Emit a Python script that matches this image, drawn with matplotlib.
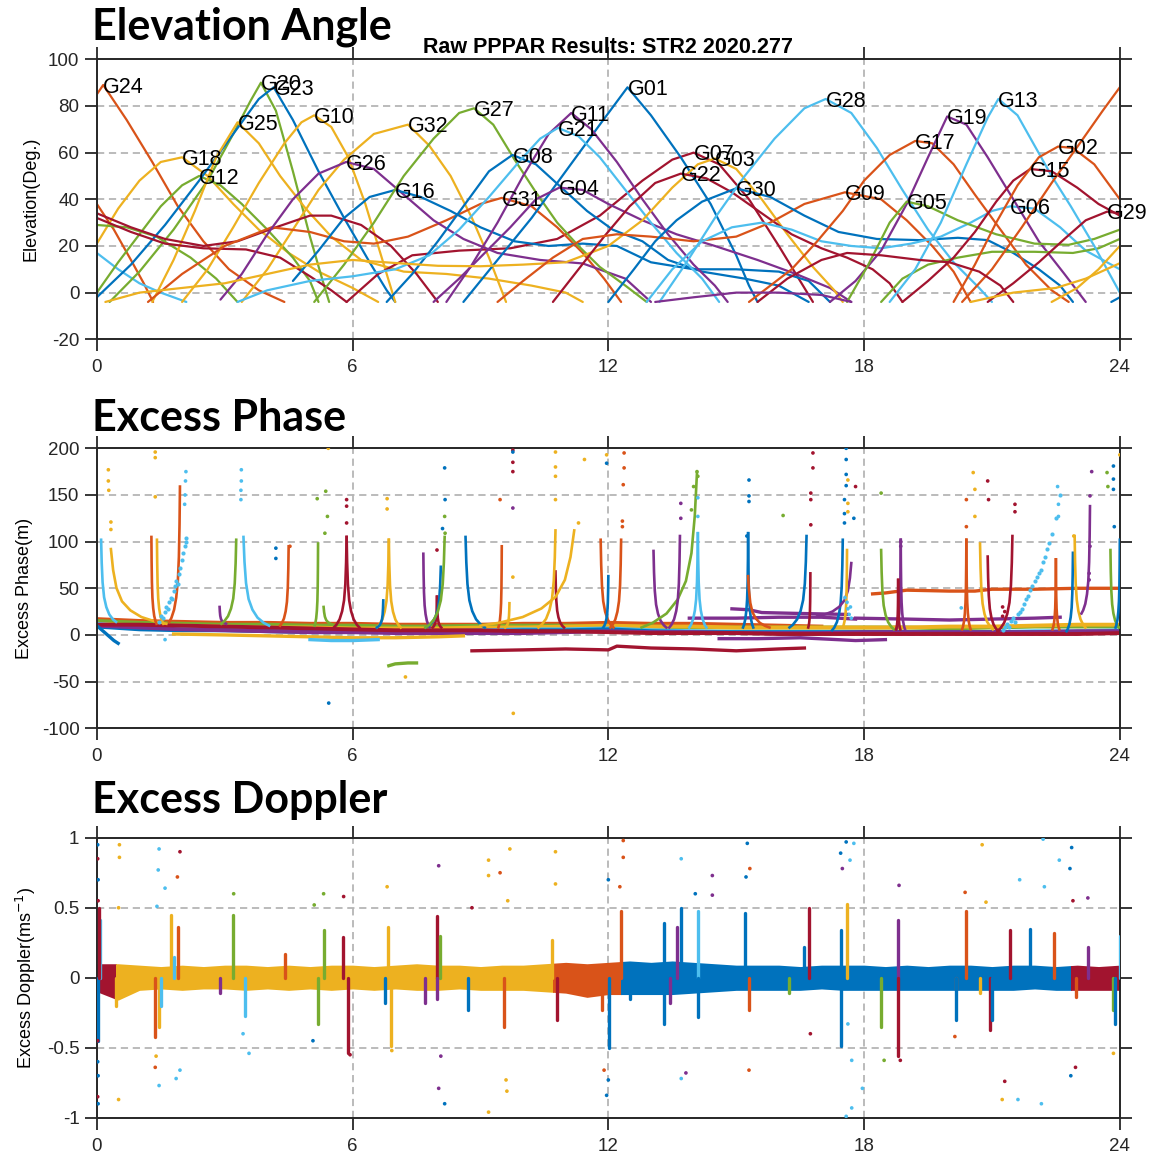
import numpy as np
import matplotlib
matplotlib.use("Agg")
import matplotlib.pyplot as plt
from matplotlib.patches import Rectangle

plt.rcParams['font.family'] = ['Liberation Sans', 'DejaVu Sans']
plt.rcParams['axes.unicode_minus'] = False

# MATLAB default colour order
COL = ['#0072BD', '#D95319', '#EDB120', '#7E2F8E', '#77AC30', '#4DBEEE', '#A2142F']
B, O, Y, P, G, L, R = range(7)

# ---------------- Elevation angle passes (hours, degrees) ----------------
G24_t = [0, 0.15, 0.7, 1.3, 1.9, 2.5, 3.1, 3.8, 4.4]
G24_el = [85, 89, 74, 56, 37, 22, 10, 1, -4]
oset_t = [0, 0.4, 0.8, 1.1, 1.32]
oset_el = [38, 27, 14, 4, -4]
lset_t = [0, 0.5, 1.0, 1.5, 2.1]
lset_el = [17, 10, 4, 0, -4]
G18_t = [0, 0.5, 1.0, 1.5, 2.0, 2.6, 3.2, 3.8, 4.5, 5.2, 6.0, 6.6]
G18_el = [21, 36, 48, 56, 58, 50, 38, 27, 17, 9, 2, -4]
G12_t = [0, 0.5, 1.0, 1.5, 2.0, 2.4, 2.9, 3.4, 4.0, 4.6, 5.0, 5.2]
G12_el = [0, 13, 25, 37, 46, 50, 46, 38, 27, 15, 5, -4]
gset_t = [0, 0.7, 1.4, 2.2, 2.8, 3.3]
gset_el = [29, 28, 24, 15, 6, -4]
G20_t = [0.3, 1.0, 1.8, 2.6, 3.2, 3.6, 3.85, 4.2, 4.6, 5.0, 5.3, 5.45]
G20_el = [-4, 9, 27, 48, 68, 82, 90, 78, 52, 24, 5, -4]
G23_t = [0, 0.8, 1.6, 2.4, 3.2, 3.8, 4.15, 4.6, 5.2, 5.8, 6.4, 6.8, 7.0]
G23_el = [-2, 12, 29, 48, 68, 83, 88, 74, 52, 32, 13, 1, -4]
G25_t = [1.3, 1.8, 2.3, 2.8, 3.3, 3.8, 4.3, 4.9, 5.5, 6.2, 7.2, 8.2, 9.2, 10.2, 11.0, 11.4]
G25_el = [-4, 14, 35, 58, 73, 64, 50, 36, 24, 14, 9, 8, 6, 3, 0, -4]
G10_t = [2.0, 2.6, 3.2, 3.8, 4.4, 4.8, 5.1, 5.5, 5.9, 6.3, 6.7, 7.0]
G10_el = [-4, 10, 28, 47, 64, 73, 76, 71, 58, 38, 14, -4]
G32_t = [3.4, 4.0, 4.6, 5.2, 5.8, 6.5, 7.3, 7.8, 8.3, 8.8, 9.2, 9.6]
G32_el = [-4, 10, 27, 44, 57, 68, 72, 63, 50, 32, 15, -4]
crA_t = [0, 0.8, 1.6, 2.5, 3.3, 4.2, 5.0, 5.5, 6.2, 6.9, 7.5, 8.0]
crA_el = [34, 28, 23, 20, 22, 28, 33, 33, 29, 20, 8, -4]
crB_t = [0, 0.8, 1.6, 2.5, 3.5, 4.3, 5.0, 5.5, 5.86]
crB_el = [32, 26, 21, 19, 18.5, 15, 7, 1, -4]
G07_t = [5.86, 6.6, 7.4, 8.5, 9.7, 10.8, 11.8, 12.8, 13.5, 14.0, 14.6, 15.3, 16.0, 16.5, 16.8]
G07_el = [-4, 8, 16, 18, 19, 23, 33, 48, 57, 60, 55, 40, 20, 5, -4]
G31_t = [1.2, 2.0, 3.0, 4.1, 5.0, 5.8, 6.5, 7.3, 8.2, 9.0, 9.5, 10.2, 10.8, 11.4, 11.9, 12.3]
G31_el = [-4, 8, 20, 28, 26, 22, 21, 24, 31, 38, 40.6, 37, 28, 17, 6, -4]
G26_t = [2.9, 3.4, 4.0, 4.6, 5.2, 5.85, 6.5, 7.2, 7.9, 8.6, 9.4, 10.4, 11.4, 12.4, 13.0]
G26_el = [-3, 8, 25, 40, 51, 56, 53, 42, 31, 23, 17, 14, 12.5, 6, -4]
G16_t = [4.6, 5.2, 5.8, 6.4, 7.0, 7.6, 8.3, 9.0, 9.8, 10.6, 11.4, 12.2, 13.0, 14.0, 15.0, 16.0, 16.7, 17.2]
G16_el = [5, 18, 32, 41, 44, 41, 35, 28, 22, 20, 21, 20, 13, 10, 10, 9, 5, -4]
G27_t = [5.1, 5.8, 6.5, 7.2, 7.9, 8.5, 8.85, 9.3, 9.8, 10.3, 10.8, 11.3, 11.8, 12.4, 12.9]
G27_el = [-4, 12, 30, 50, 66, 77, 79, 72, 57, 43, 30, 20, 11, 3, -4]
G08_t = [6.8, 7.4, 8.0, 8.6, 9.2, 9.75, 10.3, 10.9, 11.5, 12.1, 12.8, 13.4, 14.2, 15.2, 16.0, 16.7]
G08_el = [-4, 8, 22, 37, 52, 59, 55, 45, 35, 27, 22, 14, 9, 6, 3, -4]
G01_t = [8.6, 9.4, 10.2, 11.0, 11.8, 12.45, 13.0, 13.7, 14.4, 15.0, 15.3, 15.5]
G01_el = [-4, 14, 32, 52, 72, 88, 76, 58, 38, 16, 3, -4]
G04_t = [7.9, 8.5, 9.1, 9.7, 10.3, 10.85, 11.4, 12.0, 12.8, 13.6, 14.5, 15.5, 16.4, 17.2, 17.7]
G04_el = [-4, 6, 17, 28, 40, 45, 44, 38, 31, 25, 20, 14, 8, 2, -4]
G11_t = [8.2, 8.8, 9.4, 10.0, 10.6, 11.13, 11.6, 12.2, 12.8, 13.4, 14.0, 14.5, 14.8]
G11_el = [-4, 12, 30, 50, 68, 77, 70, 56, 40, 25, 12, 3, -4]
G21_t = [3.3, 4.0, 5.0, 6.0, 7.0, 7.8, 8.5, 9.2, 9.9, 10.4, 10.82, 11.3, 11.8, 12.4, 13.0, 13.6, 14.2, 14.6]
G21_el = [-4, 1, 5, 7, 10, 16, 27, 41, 56, 66, 70.6, 67, 58, 44, 30, 17, 6, -4]
G03_t = [0.2, 1.0, 2.0, 3.0, 4.0, 5.0, 6.0, 7.0, 8.0, 9.0, 10.0, 11.0, 12.0, 12.8, 13.5, 14.1, 14.5,
         15.0, 15.6, 16.2, 16.8, 17.3, 17.5]
G03_el = [-4, 0, 2, 4, 8, 12, 14, 12.7, 11.5, 11.3, 12, 13, 20, 31, 45, 55, 57.5, 53, 40, 25, 11, 1, -4]
G22_t = [10.7, 11.3, 11.9, 12.5, 13.1, 13.7, 14.3, 14.9, 15.6, 16.3, 17.0, 17.6, 18.2, 18.6, 18.9]
G22_el = [-4, 10, 24, 37, 47, 51, 49, 43, 34, 25, 19, 15, 10, 4, -4]
G09_t = [9.4, 10.0, 10.7, 11.4, 12.2, 13.0, 14.0, 15.0, 15.8, 16.6, 17.55, 18.4, 19.0, 19.6, 20.1, 20.5]
G09_el = [-4, 5, 15, 23, 25, 24, 22, 24, 30, 38, 43, 40, 31, 20, 9, -4]
G30_t = [12.0, 12.6, 13.1, 13.6, 14.2, 15.0, 15.8, 16.6, 17.4, 18.3, 19.3, 20.2, 20.9, 21.5, 22.1, 22.6, 22.9]
G30_el = [-4, 10, 22, 31, 39, 44.7, 41, 33, 26, 23, 22.5, 23.5, 22.5, 17, 10, 3, -4]
G28_t = [13.2, 13.8, 14.5, 15.2, 15.9, 16.6, 17.1, 17.7, 18.3, 18.9, 19.5, 20.1, 20.7, 21.0]
G28_el = [-4, 12, 32, 50, 66, 79, 83, 77, 62, 44, 27, 13, 2, -4]
G06_t = [12.9, 13.5, 14.2, 14.9, 15.6, 16.3, 17.0, 17.7, 18.4, 19.1, 19.8, 20.5, 21.0, 21.43, 22.0, 22.6, 23.2, 24.0]
G06_el = [-4, 10, 22, 28, 30, 27, 22, 20, 19, 21, 24, 30, 35, 37, 36, 28, 18, 10]
G17_t = [15.3, 15.8, 16.3, 16.9, 17.5, 18.0, 18.6, 19.2, 19.6, 20.1, 20.6, 21.2, 21.8, 22.4, 22.8]
G17_el = [-4, 3, 10, 22, 35, 48, 59, 65, 64, 55, 42, 27, 12, 1, -4]
G19_t = [17.2, 17.8, 18.4, 19.0, 19.5, 19.95, 20.4, 20.9, 21.5, 22.1, 22.7, 23.2]
G19_el = [-4, 5, 18, 38, 58, 75.5, 72, 58, 40, 22, 8, -4]
G05_t = [17.6, 18.1, 18.6, 19.0, 19.5, 20.2, 21.1, 22.0, 22.8, 23.4, 24.0]
G05_el = [-4, 12, 30, 39, 37, 31, 25, 21, 20.5, 23, 27]
glow_t = [18.4, 18.9, 19.5, 20.2, 21.0, 22.0, 22.9, 23.5, 24.0]
glow_el = [-4, 6, 12, 15, 17.5, 17.5, 17, 19, 23]
G13_t = [18.6, 19.2, 19.8, 20.4, 20.9, 21.15, 21.6, 22.0, 22.4, 22.85, 23.4, 24.0]
G13_el = [-4, 10, 30, 55, 75, 83, 76, 63, 50, 37, 20, 0]
G15_t = [18.9, 19.5, 20.1, 20.6, 21.1, 21.5, 21.9, 22.4, 23.0, 23.5, 24.0]
G15_el = [-4, 5, 15, 26, 39, 48, 53, 52, 45, 38, 33]
G29_t = [20.9, 21.5, 22.1, 22.7, 23.2, 23.7, 24.0]
G29_el = [-4, 4, 13, 23, 31, 34.7, 34]
G02_t = [20.1, 20.6, 21.1, 21.6, 22.1, 22.55, 22.9, 23.4, 23.8, 24.0]
G02_el = [-4, 12, 30, 46, 58, 62.6, 62, 55, 45, 40]
G24b_t = [20.3, 21.0, 21.7, 22.4, 23.1, 23.6, 24.0]
G24b_el = [-4, 10, 28, 47, 65, 78, 88]
crlow_t = [15.5, 16.2, 17.0, 17.6, 18.4, 19.3, 20.0, 20.7, 21.2, 21.5]
crlow_el = [-4, 6, 14, 17, 16, 14, 13, 9, 3, -4]
yend1_t = [20.5, 21.5, 22.5, 23.2, 24.0]
yend1_el = [-4, 0, 2, 6, 12.6]
yend2_t = [22.4, 23.0, 23.5, 24.0]
yend2_el = [-4, 2, 10, 20]
plow_t = [13.1, 14.0, 15.0, 16.0, 17.0, 17.7]
plow_el = [-4, -2, 0, 0, -1, -4]
bend_t = [23.8, 24.0]
bend_el = [-4, -2]

elev_passes = [
    ("G24", O, G24_t, G24_el), ("", O, oset_t, oset_el), ("", L, lset_t, lset_el),
    ("G18", Y, G18_t, G18_el), ("G12", G, G12_t, G12_el), ("", G, gset_t, gset_el),
    ("G20", G, G20_t, G20_el), ("G23", B, G23_t, G23_el), ("G25", Y, G25_t, G25_el),
    ("G10", Y, G10_t, G10_el), ("G32", Y, G32_t, G32_el), ("", R, crA_t, crA_el),
    ("", R, crB_t, crB_el), ("G07", R, G07_t, G07_el), ("G31", O, G31_t, G31_el),
    ("G26", P, G26_t, G26_el), ("G16", B, G16_t, G16_el), ("G27", G, G27_t, G27_el),
    ("G08", B, G08_t, G08_el), ("G01", B, G01_t, G01_el), ("G04", P, G04_t, G04_el),
    ("G11", P, G11_t, G11_el), ("G21", L, G21_t, G21_el), ("G03", Y, G03_t, G03_el),
    ("G22", R, G22_t, G22_el), ("G09", O, G09_t, G09_el), ("G30", B, G30_t, G30_el),
    ("G28", L, G28_t, G28_el), ("G06", L, G06_t, G06_el), ("G17", O, G17_t, G17_el),
    ("G19", P, G19_t, G19_el), ("G05", G, G05_t, G05_el), ("", G, glow_t, glow_el),
    ("G13", L, G13_t, G13_el), ("G15", R, G15_t, G15_el), ("G29", R, G29_t, G29_el),
    ("G02", O, G02_t, G02_el), ("", O, G24b_t, G24b_el), ("", R, crlow_t, crlow_el),
    ("", Y, yend1_t, yend1_el), ("", Y, yend2_t, yend2_el), ("", P, plow_t, plow_el),
    ("", B, bend_t, bend_el),
]

# ---------------- Excess phase ----------------
ph_t = list(range(25))
ph_orange = [17, 15, 14, 13, 13, 12, 12, 11, 11, 11, 12, 12, 13, 12, 12, 11, 10, 9, np.nan, np.nan, np.nan,
             np.nan, np.nan, np.nan, np.nan]
ph_green = [15, 13, 12, 11, 11, 10, 10, 9, 9, 10, 10, 10, 9, 9, 8, 8, 8, 8, 8, 8, 7, 8, 9, 9, 9]
ph_yellow = [12, 10, 10, 9, 8, 8, 7, 7, 7, 8, 8, 9, 10, 9, 9, 8, 8, 8, 8, 8, 9, 9, 10, 11, 11]
ph_crimson = [11, 11, 10, 9, 8, 7, 6, 5, 5, 5, 4, 4, 3, 2, 2, 2, 1, 1, 1, 1, 1, 1, 1, 1, 2]
ph_lblue = [12, 8, 7, 6, 6, 5, 4, 4, 4, 5, 6, 6, 7, 5, 4, 3, 3, 3, 3, 3, 2, 3, 4, 4, 5]
ph_blue = [9, 6, 5, 5, 4, 3, 3, 3, 3, 4, 5, 5, 6, 4, 3, 3, 3, 3, 3, 3, 3, 3, 3, 3, 4]
ph_purple = [10, 8, 6, 5, 4, 3, 3, 2, 2, 2, 2, 3, 4, 3, 3, 2, 2, 2, 3, 3, 3, 3, 3, 4, 4]
ph_base = [(O, ph_orange), (G, ph_green), (Y, ph_yellow), (L, ph_lblue),
           (B, ph_blue), (P, ph_purple), (R, ph_crimson)]

# extra level segments
crneg_t = [8.8, 10, 11, 12, 12.2, 13, 14, 15, 16, 16.6]
crneg_y = [-17, -16, -15, -16, -12, -14, -15, -17, -15, -14]
gneg_t = [6.85, 7.0, 7.3, 7.5]
gneg_y = [-33, -31, -30, -30]
pur1_t = [13.9, 15, 16, 17, 17.8]
pur1_y = [18, 18, 19, 19, 17]
pur2_t = [14.9, 15.3, 15.6, 16.5, 17.6]
pur2_y = [28, 27, 24, 23, 22]
pur3_t = [17.8, 19, 20, 21, 22, 22.6]
pur3_y = [18, 17, 16, 17, 18, 19]
pur4_t = [14.6, 15.5, 16.5, 17.8, 18.5]
pur4_y = [-4, -4, -3, -6, -5]
or50_t = [18.2, 18.5, 19, 20, 20.6, 21, 22, 23, 24]
or50_y = [44, 45, 48, 47, 47, 49, 49, 50, 50]
ylow_t = [1.8, 3, 4, 5, 6, 7, 8, 8.6]
ylow_y = [1, 0, -1, -2, -3, -3, -2, -1]
lneg_t = [5.0, 5.5, 6, 6.6]
lneg_y = [-5, -6, -6, -5]
bdrop_t = [0, 0.2, 0.4, 0.5]
bdrop_y = [10, 2, -6, -9]
ph_segments = [(R, crneg_t, crneg_y), (G, gneg_t, gneg_y), (P, pur1_t, pur1_y), (P, pur2_t, pur2_y),
               (P, pur3_t, pur3_y), (P, pur4_t, pur4_y), (O, or50_t, or50_y), (Y, ylow_t, ylow_y),
               (L, lneg_t, lneg_y), (B, bdrop_t, bdrop_y)]

# spikes at low elevation: time, peak, base level, width (h), side, colour
spk_t0 = [0.1, 0.33, 1.28, 1.41, 1.95, 2.88, 3.27, 3.44, 4.5, 5.19, 5.32, 5.86, 6.85, 6.72, 7.66, 7.98,
          8.07, 8.16, 8.65, 9.5, 10.76, 11.2, 9.68, 10.76, 11.82, 12.3, 12.0, 13.06, 14.08, 13.68,
          14.1, 15.28, 15.28, 16.65, 16.74, 17.5, 17.7, 17.6, 18.4, 18.86, 18.8, 20.4, 20.72, 21.48,
          20.9, 22.5, 22.9, 22.94, 23.3, 23.78, 24.0]
spk_peak = [102, 92, 105, 102, 159, 30, 102, 105, 95, 98, 30, 105, 102, 37, 87, 41,
            73, 105, 105, 95, 68, 112, 34, 112, 102, 102, 63, 90, 174, 106,
            109, 109, 63, 106, 66, 102, 77, 91, 91, 102, 59, 102, 98, 106,
            84, 81, 88, 106, 138, 91, 102]
spk_base = [14, 12, 12, 12, 14, 12, 12, 10, 10, 10, 10, 8, 8, 8, 8, 8,
            8, 8, 8, 8, 8, 10, 8, 8, 8, 8, 8, 8, 8, 8,
            8, 8, 8, 8, 8, 5, 20, 8, 6, 6, 6, 6, 6, 4,
            4, 6, 4, 8, 23, 8, 8]
spk_w = [0.35, 1.3, 0.12, 0.15, 0.25, 0.15, 0.35, 0.6, 0.2, 0.08, 0.3, 0.3, 0.28, 0.15, 0.15, 0.1,
         0.35, 0.45, 0.45, 0.08, 0.2, 2.2, 0.1, 0.4, 0.3, 0.25, 0.12, 0.3, 1.3, 0.25,
         0.2, 0.12, 0.5, 0.4, 0.05, 0.25, 0.8, 0.1, 0.3, 0.1, 0.05, 0.1, 0.3, 0.35,
         0.25, 0.08, 0.15, 0.25, 0.2, 0.2, 0.1]
spk_side = ['R', 'R', 'R', 'R', 'L', 'R', 'L', 'R', 'L', 'L', 'R', 'B', 'B', 'L', 'R', 'B',
            'L', 'L', 'R', 'L', 'R', 'L', 'L', 'L', 'R', 'L', 'L', 'R', 'L', 'L',
            'B', 'B', 'R', 'L', 'L', 'L', 'L', 'L', 'R', 'B', 'B', 'B', 'R', 'L',
            'R', 'B', 'L', 'R', 'L', 'R', 'L']
spk_col = [L, Y, O, Y, O, P, G, L, O, G, G, R, Y, B, P, R,
           B, G, B, O, R, Y, Y, Y, O, O, B, P, G, P,
           L, B, O, B, R, B, P, Y, G, P, R, O, Y, R,
           R, O, B, Y, P, G, B]
# typical spike profile (fraction of width, fraction of height)
prof_u = [0, 0.04, 0.1, 0.2, 0.35, 0.55, 0.8, 1.0]
prof_f = [1.0, 0.72, 0.48, 0.3, 0.18, 0.09, 0.03, 0.0]

# scattered light-blue clusters
lbc1_t = [1.45, 1.5, 1.55, 1.6, 1.62, 1.66, 1.7, 1.73, 1.76, 1.8, 1.83, 1.86, 1.9, 1.93, 1.96, 2.0,
          2.03, 2.06, 2.08, 2.1]
lbc1_y = [14, 20, 18, 25, 30, 28, 35, 40, 38, 47, 52, 58, 55, 65, 72, 80, 88, 95, 100, 104]
lbc2_t = [21.25, 21.3, 21.35, 21.4, 21.45, 21.5, 21.55, 21.6, 21.65, 21.7, 21.75, 21.8, 21.85, 21.9,
          21.95, 22.0, 22.05, 22.1, 22.15, 22.2, 22.25, 22.3, 22.35, 22.4, 22.5, 22.6]
lbc2_y = [5, 8, 12, 9, 15, 18, 14, 22, 25, 28, 33, 38, 42, 48, 52, 58, 62, 66, 70, 78, 84, 92, 98,
          108, 125, 150]

# isolated phase outliers
phd_t = [0.27, 0.27, 0.28, 0.33, 0.33, 1.37, 1.37, 1.37, 2.09, 2.08, 2.07, 2.06, 3.39, 3.39, 3.38, 3.38,
         4.2, 4.2, 4.53, 5.17, 5.37, 5.41, 5.35, 5.43, 5.86, 5.86, 5.86, 6.81, 6.81, 5.44, 1.6, 8.16,
         8.17, 8.16, 8.17, 8.11, 7.98, 9.46, 9.76, 9.76, 9.76, 9.76, 9.76, 9.77, 9.76, 10.76, 10.76,
         10.76, 10.76, 11.44, 11.3, 7.24, 11.96, 11.96, 12.37, 12.37, 12.35, 12.33, 12.33, 14.08, 14.1,
         14.0, 13.7, 13.7, 14.1, 14.1, 13.95, 15.3, 15.3, 15.3, 15.25, 16.1, 16.8, 16.8, 16.75, 16.75,
         16.75, 17.58, 17.58, 17.58, 17.58, 17.54, 17.54, 17.54, 17.62, 17.62, 17.62, 17.8, 17.76,
         18.4, 18.86, 18.86, 20.56, 20.6, 20.6, 20.4, 20.4, 20.9, 20.92, 21.54, 21.54, 22.54, 22.56,
         22.56, 22.92, 23.34, 23.3, 23.3, 23.28, 23.28, 23.7, 23.72, 23.85, 23.85, 23.85, 23.87, 24.0,
         21.25, 21.25, 21.3, 17.6, 17.62, 17.65, 17.7, 17.55, 17.68, 20.28]
phd_y = [177, 165, 155, 121, 113, 196, 190, 148, 175, 165, 150, 140, 177, 165, 155, 145,
         93, 82, 95, 146, 154, 127, 109, 200, 145, 138, 120, 146, 135, -73, -5, 127,
         109, 179, 145, 114, 91, 145, 198, 185, 175, 136, 62, -84, 196, 196, 180,
         170, 145, 188, 120, -45, 193, 184, 195, 179, 161, 122, 116, 175, 170,
         159, 141, 125, 147, 127, 134, 166, 149, 143, 106, 128, 195, 179, 152, 145,
         118, 200, 188, 172, 160, 145, 130, 120, 166, 141, 132, 159, 125,
         152, 100, 95, 174, 156, 127, 145, 116, 165, 145, 140, 132, 159, 140,
         127, 106, 175, 149, 95, 66, 59, 174, 159, 181, 167, 156, 116, 193,
         30, 20, 25, 35, 28, 22, 18, 40, 30, 29]
phd_c = [Y, Y, Y, Y, Y, Y, Y, Y, L, L, L, L, L, L, L, L,
         B, B, O, G, G, G, G, Y, R, R, R, Y, Y, B, L, G,
         G, B, B, B, R, O, R, R, R, P, Y, Y, B, Y, Y,
         Y, Y, Y, Y, Y, Y, B, O, O, O, O, O, G, G,
         G, P, P, L, L, G, B, B, B, B, G, R, R, R, R,
         R, B, B, B, B, B, B, B, Y, Y, Y, R, B,
         G, P, P, Y, Y, Y, O, O, R, R, R, R, L, L,
         L, Y, P, P, P, P, P, G, G, B, B, B, B, Y,
         R, R, R, L, L, L, L, L, L, L]

# ---------------- Excess Doppler ----------------
dop_t = [i * 0.5 for i in range(49)]
dop_hi = [0.10, 0.10, 0.09, 0.08, 0.09, 0.08, 0.09, 0.09, 0.08, 0.09, 0.08, 0.09, 0.09, 0.08, 0.09,
          0.10, 0.09, 0.09, 0.08, 0.09, 0.09, 0.10, 0.11, 0.10, 0.11, 0.12, 0.11, 0.12, 0.11, 0.10,
          0.09, 0.09, 0.09, 0.08, 0.09, 0.09, 0.09, 0.08, 0.09, 0.08, 0.09, 0.09, 0.08, 0.09, 0.09,
          0.08, 0.09, 0.08, 0.09]
dop_lo = [-0.10, -0.16, -0.09, -0.08, -0.09, -0.08, -0.08, -0.09, -0.08, -0.09, -0.08, -0.09, -0.08,
          -0.09, -0.08, -0.09, -0.09, -0.08, -0.09, -0.09, -0.09, -0.10, -0.11, -0.14, -0.12, -0.12,
          -0.12, -0.12, -0.11, -0.10, -0.09, -0.09, -0.09, -0.09, -0.08, -0.09, -0.09, -0.09, -0.09,
          -0.09, -0.09, -0.09, -0.09, -0.09, -0.08, -0.09, -0.09, -0.09, -0.09]
dop_seg_start = [0.0, 0.45, 10.7, 12.3, 22.85]
dop_seg_end = [0.45, 10.7, 12.3, 22.85, 24.0]
dop_seg_col = [R, Y, O, B, R]

dsp_t = [0.08, 1.37, 1.45, 1.73, 1.9, 1.8, 0.45, 3.2, 3.48, 4.42, 2.9, 5.32, 5.19, 5.77, 5.9, 6.83,
         6.9, 6.76, 7.98, 8.05, 7.7, 7.98, 8.7, 9.55, 10.67, 10.8, 1.5, 11.85, 12.3, 12.02, 13.3,
         13.7, 13.6, 14.1, 13.3, 13.45, 14.1, 12.5, 15.2, 15.3, 16.25, 16.7, 16.6, 17.45, 17.6,
         17.45, 18.8, 18.4, 18.8, 20.4, 20.15, 20.15, 20.72, 20.95, 21.43, 22.45, 23.25, 22.98,
         23.83, 23.88, 24.0, 21.9, 21.0, 0.03, 0.04]
dsp_y = [0.41, -0.42, -0.35, 0.45, 0.36, 0.15, -0.2, 0.45, -0.27, 0.17, -0.11, 0.34, -0.33, 0.29,
         -0.54, 0.36, -0.49, -0.18, 0.44, 0.3, -0.18, -0.15, -0.23, -0.35, 0.27, -0.3, -0.2,
         -0.23, 0.48, -0.5, 0.39, 0.5, 0.36, 0.48, -0.33, -0.18, -0.28, -0.15, 0.46, -0.23, -0.11,
         0.5, 0.22, 0.34, 0.53, -0.49, 0.41, -0.35, -0.56, 0.48, -0.09, -0.3, -0.11, -0.37, 0.34,
         0.32, 0.22, -0.14, -0.23, -0.33, 0.3, 0.35, -0.3, -0.45, 0.5]
dsp_c = [L, O, Y, Y, O, L, Y, G, L, O, P, G, G, R, R, Y,
         Y, B, R, G, P, P, B, O, Y, R, L, O, O, B, B,
         B, P, L, B, P, B, B, B, O, G, R, B, B, Y,
         B, P, G, R, O, O, B, Y, R, R, O, P, O,
         G, B, L, B, B, B, R]

dd_t = [0.02, 0.02, 0.03, 0.03, 0.02, 0.02, 0.03, 0.02, 0.03, 0.53, 0.53, 0.51, 0.51, 1.46, 1.44,
        1.6, 1.41, 1.46, 1.86, 1.95, 1.95, 1.89, 1.37, 1.39, 3.57, 3.43, 3.21, 5.32, 5.1, 5.79,
        5.94, 5.07, 6.81, 6.92, 8.02, 8.16, 8.02, 8.07, 9.19, 9.19, 9.46, 9.19, 9.69, 9.64, 9.6,
        9.62, 10.76, 10.76, 8.8, 12.35, 12.35, 12.27, 12.0, 11.96, 11.9, 12.0, 13.71, 13.71, 13.82,
        15.26, 15.32, 15.23, 15.3, 14.44, 14.44, 14.04, 16.74, 17.45, 17.49, 17.58, 17.76, 17.67,
        17.58, 17.71, 17.96, 17.71, 17.62, 18.82, 18.47, 18.85, 20.37, 20.13, 20.77, 20.86, 21.3,
        21.24, 21.61, 22.16, 21.65, 22.23, 22.2, 22.87, 22.83, 22.58, 22.96, 22.85, 22.9, 23.25,
        23.85]
dd_y = [0.95, 0.85, 0.7, 0.55, -0.45, -0.6, -0.7, -0.85, -0.9, 0.95, 0.86, -0.87, 0.5, 0.92, 0.77,
        0.64, 0.51, -0.77, -0.72, -0.66, 0.9, 0.72, -0.64, -0.56, -0.54, -0.4, 0.6, 0.6, 0.52, 0.58,
        -0.55, -0.45, 0.65, -0.52, 0.8, -0.9, -0.79, -0.56, 0.84, 0.73, 0.75, -0.96, 0.92, 0.55, -0.73,
        -0.81, 0.9, 0.67, 0.5, 0.98, 0.86, 0.65, 0.7, -0.84, -0.66, -0.73, 0.85, -0.72, -0.68,
        0.96, 0.78, 0.72, -0.66, 0.73, 0.59, 0.6, -0.4, 0.89, 0.78, 0.97, 0.96, 0.84,
        -0.99, -0.93, -0.79, -0.59, -0.33, 0.66, -0.59, -0.59, 0.61, -0.42, 0.95, 0.54, -0.74,
        -0.87, -0.87, -0.9, 0.7, 0.65, 0.99, 0.93, 0.78, 0.84, -0.64, -0.7, 0.55, 0.57,
        -0.54]
dd_c = [B, R, B, R, R, B, B, R, B, Y, Y, Y, Y, L, L,
        L, L, L, L, L, R, O, O, Y, L, L, G, G, G, R,
        R, B, Y, Y, P, B, P, P, Y, Y, O, Y, Y, Y, Y,
        Y, Y, Y, R, O, O, O, B, B, O, B, L, L, P,
        B, O, B, O, P, P, B, R, B, P, B, L, L,
        L, L, L, L, L, P, G, R, O, O, Y, Y, R,
        Y, L, L, L, L, L, B, B, L, R, B, R, P,
        Y]

# ---------------- Figure ----------------
fig = plt.figure(figsize=(11.71, 11.56), dpi=100)
LEFT, WIDTH, HEIGHT = 0.0827, 0.8736, 0.2422
ax1 = fig.add_axes([LEFT, 0.7065, WIDTH, HEIGHT])
ax2 = fig.add_axes([LEFT, 0.3700, WIDTH, HEIGHT])
ax3 = fig.add_axes([LEFT, 0.0331, WIDTH, HEIGHT])

FRAME = '#262626'


def style(ax, ylim, yticks, ylabels):
    ax.set_xlim(0, 24)
    ax.set_ylim(*ylim)
    ax.set_xticks([0, 6, 12, 18, 24])
    ax.set_xticklabels(['0', '6', '12', '18', '24'])
    ax.set_yticks(yticks)
    ax.set_yticklabels(ylabels)
    ax.tick_params(which='both', direction='out', length=8.5, width=1.3, top=True, right=True,
                   labeltop=False, labelright=False, colors=FRAME, labelsize=13.5)
    ax.tick_params(axis='x', pad=6)
    ax.tick_params(axis='y', pad=4)
    for s in ax.spines.values():
        s.set_linewidth(1.4)
        s.set_color(FRAME)
    ax.grid(True, linestyle=(0, (4, 2.6)), color='#b5b5b5', linewidth=1.3)
    ax.set_axisbelow(True)


# Panel 1: elevation
for name, c, t, el in elev_passes:
    ax1.plot(t, el, color=COL[c], lw=1.6, solid_joinstyle='round', solid_capstyle='round', zorder=2)
for name, c, t, el in elev_passes:
    if name:
        k = int(np.argmax(el))
        ax1.text(t[k], el[k] - 1, name, fontsize=15.5, ha='left', va='center', color='black',
                 zorder=5, clip_on=False)
style(ax1, (-20, 100), [-20, 0, 20, 40, 60, 80, 100], ['-20', '0', '20', '40', '60', '80', '100'])
ax1.set_ylabel('Elevation(Deg.)', fontsize=13)
ax1.yaxis.set_label_coords(-0.056, 0.5)

# Panel 2: excess phase
for c, vals in ph_base:
    ax2.plot(ph_t, vals, color=COL[c], lw=2.8, zorder=2)
for c, t, y in ph_segments:
    ax2.plot(t, y, color=COL[c], lw=2.4, zorder=2)
for t0, pk, bs, w, sd, c in zip(spk_t0, spk_peak, spk_base, spk_w, spk_side, spk_col):
    vals = [bs + (pk - bs) * f for f in prof_f]
    if sd in ('L', 'B'):
        ax2.plot([t0 - w * u for u in prof_u], vals, color=COL[c], lw=1.9, zorder=3)
    if sd in ('R', 'B'):
        ax2.plot([t0 + w * u for u in prof_u], vals, color=COL[c], lw=1.9, zorder=3)
ax2.scatter(lbc1_t, lbc1_y, s=9, c=COL[L], linewidths=0, zorder=3)
ax2.scatter(lbc2_t, lbc2_y, s=9, c=COL[L], linewidths=0, zorder=3)
ax2.scatter(phd_t, phd_y, s=7, c=[COL[c] for c in phd_c], linewidths=0, zorder=3)
style(ax2, (-100, 200), [-100, -50, 0, 50, 100, 150, 200],
      ['-100', '-50', '0', '50', '100', '150', '200'])
ax2.set_ylabel('Excess Phase(m)', fontsize=13)
ax2.yaxis.set_label_coords(-0.062, 0.5)

# Panel 3: excess Doppler
for a, b, c in zip(dop_seg_start, dop_seg_end, dop_seg_col):
    pc = ax3.fill_between(dop_t, dop_lo, dop_hi, color=COL[c], lw=0, zorder=2)
    pc.set_clip_path(Rectangle((a, -2), b - a, 4, transform=ax3.transData))
for t, y, c in zip(dsp_t, dsp_y, dsp_c):
    ax3.plot([t, t], [0, y], color=COL[c], lw=2.4, zorder=3, solid_capstyle='round')
ax3.scatter(dd_t, dd_y, s=7, c=[COL[c] for c in dd_c], linewidths=0, zorder=3)
style(ax3, (-1, 1), [-1, -0.5, 0, 0.5, 1], ['-1', '-0.5', '0', '0.5', '1'])
ax3.set_ylabel('Excess Doppler(ms$^{-1}$)', fontsize=13)
ax3.yaxis.set_label_coords(-0.0575, 0.5)

# Titles
for ytxt, txt in [(0.9654, 'Elevation Angle'), (0.6274, 'Excess Phase'), (0.2964, 'Excess Doppler')]:
    fig.text(0.0786, ytxt, txt, fontsize=31, fontweight='bold', family=['Lato', 'DejaVu Sans'],
             ha='left', va='baseline', color='black')
fig.text(0.5196, 0.9539, 'Raw PPPAR Results: STR2 2020.277', fontsize=15.5, fontweight='bold',
         ha='center', va='baseline', color='black')

fig.savefig('out.png', dpi=100)
